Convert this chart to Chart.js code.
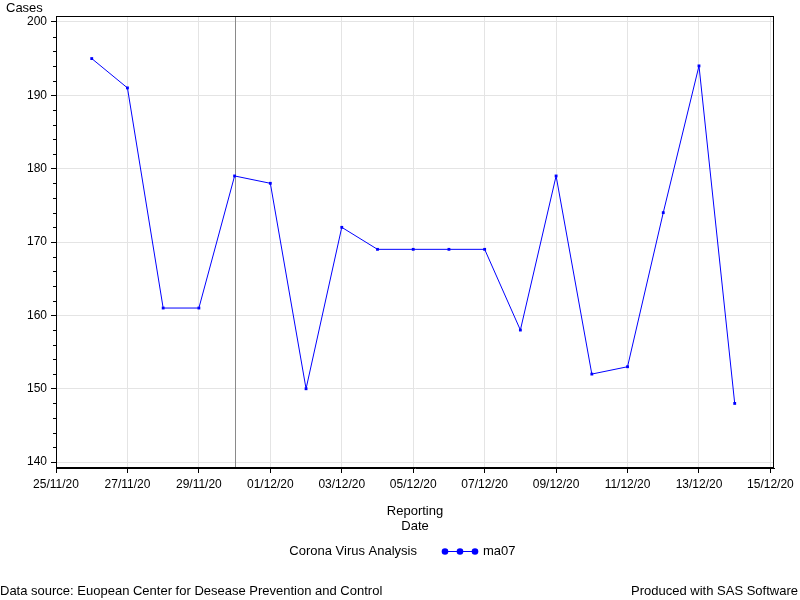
<!DOCTYPE html>
<html>
<head>
<meta charset="utf-8">
<script src="https://cdn.jsdelivr.net/npm/chart.js@4.4.1/dist/chart.umd.min.js"></script>
<style>
  html, body { margin: 0; padding: 0; background: #fff; }
  #wrap { position: relative; width: 800px; height: 600px; }
</style>
</head>
<body>
<div id="wrap"><canvas id="chart" width="800" height="600"></canvas></div>
<script>
// ===== data =====
const reportDates = ['26/11/20','27/11/20','28/11/20','29/11/20','30/11/20','01/12/20','02/12/20',
                     '03/12/20','04/12/20','05/12/20','06/12/20','07/12/20','08/12/20','09/12/20',
                     '10/12/20','11/12/20','12/12/20','13/12/20','14/12/20'];
const ma07 = [195, 191, 161, 161, 179, 178, 150, 172, 169, 169, 169, 169, 158, 179, 152, 153, 174, 194, 148];
const xTickLabels = ['25/11/20','27/11/20','29/11/20','01/12/20','03/12/20','05/12/20',
                     '07/12/20','09/12/20','11/12/20','13/12/20','15/12/20'];
const yMajorTicks = [140, 150, 160, 170, 180, 190, 200];
const refLineDate = '30/11/20';

const FONT = 'Arial, "Liberation Sans", sans-serif';

// days since 25/11/20
function dayOffset(s) {
    const [d, m, y] = s.split('/').map(Number);
    return (Date.UTC(2000 + y, m - 1, d) - Date.UTC(2020, 10, 25)) / 86400000;
}

// extra bits SAS draws that chart.js doesnt: frame, ref line, minor ticks, legend, footnotes
const sasExtras = {
    id: 'sasExtras',
    beforeDatasetsDraw(chart) {
        const {ctx, chartArea: a, scales: {x}} = chart;
        const px = Math.round(x.getPixelForValue(dayOffset(refLineDate))) + 0.5;
        ctx.save();
        ctx.strokeStyle = '#8a8a8a';
        ctx.lineWidth = 1;
        ctx.beginPath();
        ctx.moveTo(px, a.top);
        ctx.lineTo(px, a.bottom);
        ctx.stroke();
        ctx.restore();
    },
    afterDraw(chart) {
        const {ctx, chartArea: a, scales: {y}} = chart;
        ctx.save();
        // frame
        ctx.strokeStyle = '#000';
        ctx.lineWidth = 1;
        ctx.strokeRect(Math.round(a.left) + 0.5, Math.round(a.top) + 0.5,
                       Math.round(a.right - a.left) - 1, Math.round(a.bottom - a.top) - 1);
        // minor y ticks every 2
        ctx.beginPath();
        for (let v = yMajorTicks[0]; v <= yMajorTicks[yMajorTicks.length - 1]; v += 2) {
            if (v % 10 === 0) continue;
            const py = Math.round(y.getPixelForValue(v)) + 0.5;
            ctx.moveTo(a.left - 3, py);
            ctx.lineTo(a.left, py);
        }
        ctx.stroke();

        ctx.fillStyle = '#000';
        ctx.font = '13px ' + FONT;
        ctx.textBaseline = 'middle';
        // y axis label on top
        ctx.textAlign = 'left';
        ctx.fillText('Cases', 6, 8);

        // legend
        const ly = 551;
        ctx.textAlign = 'right';
        ctx.fillText('Corona Virus Analysis', 417, ly);
        ctx.strokeStyle = '#0000ff';
        ctx.fillStyle = '#0000ff';
        ctx.beginPath();
        ctx.moveTo(444, ly + 0.5);
        ctx.lineTo(476, ly + 0.5);
        ctx.stroke();
        [445, 460, 475].forEach(cx => {
            ctx.beginPath();
            ctx.arc(cx, ly + 0.5, 3.3, 0, Math.PI * 2);
            ctx.fill();
        });
        ctx.fillStyle = '#000';
        ctx.textAlign = 'left';
        ctx.fillText('ma07', 483, ly);

        // footnotes
        ctx.textAlign = 'left';
        ctx.fillText('Data source: Euopean Center for Desease Prevention and Control', 0, 591);
        ctx.textAlign = 'right';
        ctx.fillText('Produced with SAS Software', 798, 591);
        ctx.restore();
    }
};

const ctx = document.getElementById('chart').getContext('2d');
new Chart(ctx, {
    type: 'line',
    data: {
        datasets: [{
            label: 'ma07',
            data: reportDates.map((d, i) => ({x: dayOffset(d), y: ma07[i]})),
            borderColor: '#0000ff',
            backgroundColor: '#0000ff',
            borderWidth: 1,
            pointStyle: 'rect',
            pointRadius: 2,
            pointBorderWidth: 0,
            tension: 0,
            fill: false
        }]
    },
    options: {
        responsive: false,
        animation: false,
        layout: { padding: { top: 16, right: 26, bottom: 64, left: 0 } },
        plugins: {
            legend: { display: false },
            tooltip: { enabled: false }
        },
        scales: {
            x: {
                type: 'linear',
                min: 0,
                max: 20.1,
                afterBuildTicks: s => { s.ticks = xTickLabels.map(l => ({value: dayOffset(l)})); },
                afterFit: s => { s.height = 68; },
                ticks: {
                    autoSkip: false,
                    maxRotation: 0,
                    padding: 4,
                    color: '#000',
                    font: { family: FONT, size: 12 },
                    callback: v => {
                        const l = xTickLabels.find(t => dayOffset(t) === v);
                        return l || '';
                    }
                },
                grid: { color: '#e4e4e4', tickColor: '#000', tickLength: 5 },
                border: { color: '#000', width: 1 },
                title: {
                    display: true,
                    text: ['Reporting', 'Date'],
                    color: '#000',
                    font: { family: FONT, size: 13, lineHeight: 1.15 },
                    padding: { top: 0, bottom: 2 }
                }
            },
            y: {
                min: 139.2,
                max: 200.8,
                afterBuildTicks: s => { s.ticks = yMajorTicks.map(v => ({value: v})); },
                afterFit: s => { s.width = 56; },
                ticks: {
                    padding: 4,
                    color: '#000',
                    font: { family: FONT, size: 12 }
                },
                grid: { color: '#e4e4e4', tickColor: '#000', tickLength: 5 },
                border: { color: '#000', width: 1 }
            }
        }
    },
    plugins: [sasExtras]
});
</script>
</body>
</html>
